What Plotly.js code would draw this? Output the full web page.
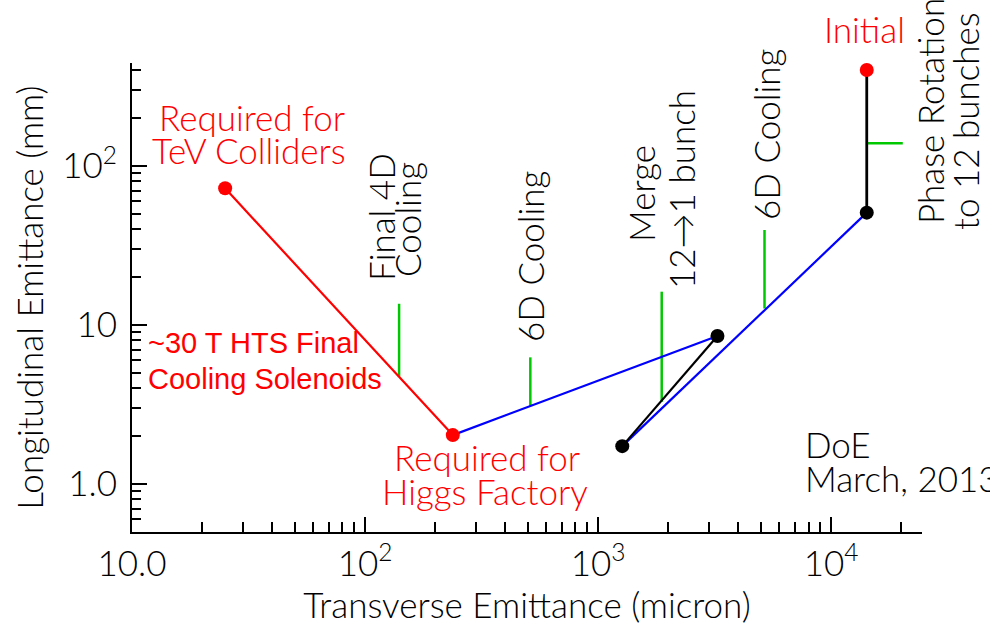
<!DOCTYPE html>
<html>
<head>
<meta charset="utf-8">
<script src="https://cdn.plot.ly/plotly-3.0.1.min.js"></script>
<style>html,body{margin:0;padding:0;background:#fff;}#chart{width:990px;height:635px;}</style>
</head>
<body>
<div id="chart"></div>
<script>
// ---- data (transverse emittance in micron, longitudinal emittance in mm) ----
const redLineX = [25.1, 238];
const redLineY = [72.4, 2.03];
const blueLine1X = [238, 3253];
const blueLine1Y = [2.03, 8.53];
const blackLine1X = [3253, 1270];
const blackLine1Y = [8.53, 1.73];
const blueLine2X = [1270, 14220];
const blueLine2Y = [1.73, 50.9];
const blackLine2X = [14220, 14220];
const blackLine2Y = [50.9, 402];
const redDotsX = [25.1, 238, 14220];
const redDotsY = [72.4, 2.03, 402];
const blackDotsX = [3253, 1270, 14220];
const blackDotsY = [8.53, 1.73, 50.9];
const greenX = [140, 140, null, 512, 512, null, 1875, 1875, null, 5178, 5178, null, 14220, 20300];
const greenY = [13.6, 4.73, null, 6.26, 3.1, null, 16.2, 3.29, null, 39.6, 12.7, null, 139, 139];

const xTickVals = [10, 100, 1000, 10000];
const xTickText = ['10.0', '10<sup>2</sup>', '10<sup>3</sup>', '10<sup>4</sup>'];
const yTickVals = [1, 10, 100];
const yTickText = ['1.0', '10', '10<sup>2</sup>'];
const xMinorVals = [20,30,40,50,60,70,80,90,200,300,400,500,600,700,800,900,2000,3000,4000,5000,6000,7000,8000,9000,20000];
const yMinorVals = [0.6,0.7,0.8,0.9,2,3,4,5,6,7,8,9,20,30,40,50,60,70,80,90,200,300,400];

const xTitle = 'Transverse Emittance (micron)';
const yTitle = 'Longitudinal Emittance (mm)';

// ---- layout helpers (pixel -> paper) ----
const L = 132, R = 922, T = 63, B = 532;
const px = v => (v - L) / (R - L);
const py = v => (B - v) / (B - T);

const CM = 'Lato, "Open Sans", sans-serif';
const FS = 35;
const W = 300;

function ann(text, x, y, opts) {
  return Object.assign({
    text: text, xref: 'paper', yref: 'paper', x: px(x), y: py(y),
    xanchor: 'center', yanchor: 'middle', showarrow: false,
    font: {family: CM, size: FS, color: 'black', weight: W}
  }, opts || {});
}
const red = {family: CM, size: FS, color: '#ff0000', weight: W};
const sansRed = {family: '"Liberation Sans", Arial, sans-serif', size: 29, color: '#ff0000'};
const annotations = [
  ann('Required for', 252, 117, {font: red}),
  ann('TeV Colliders', 249, 150, {font: red}),
  ann('~30 T HTS Final', 146, 343, {xanchor: 'left', font: sansRed}),
  ann('Cooling Solenoids', 146, 379, {xanchor: 'left', font: sansRed}),
  ann('Required for', 487, 457, {font: red}),
  ann('Higgs Factory', 485, 491, {font: red}),
  ann('Initial', 864, 29, {font: red}),
  ann('DoE', 803, 444, {xanchor: 'left'}),
  ann('March, 2013', 803, 478, {xanchor: 'left'}),
  ann('Final 4D', 381, 217, {textangle: -90}),
  ann('Cooling', 407, 220, {textangle: -90}),
  ann('6D Cooling', 530, 257, {textangle: -90}),
  ann('Merge', 641, 194, {textangle: -90}),
  ann('12\u21921 bunch', 681, 190, {textangle: -90}),
  ann('6D Cooling', 766, 135, {textangle: -90}),
  ann('Phase Rotation', 930, 111, {textangle: -90}),
  ann('to 12 bunches', 965, 121, {textangle: -90})
];

const traces = [
  {x: greenX, y: greenY, mode: 'lines', line: {color: '#00c800', width: 2.5}, connectgaps: false, hoverinfo: 'skip'},
  {x: redLineX, y: redLineY, mode: 'lines', line: {color: '#ff0000', width: 2.2}},
  {x: blueLine1X, y: blueLine1Y, mode: 'lines', line: {color: '#0000ff', width: 2.2}},
  {x: blueLine2X, y: blueLine2Y, mode: 'lines', line: {color: '#0000ff', width: 2.2}},
  {x: blackLine1X, y: blackLine1Y, mode: 'lines', line: {color: 'black', width: 2.2}},
  {x: blackLine2X, y: blackLine2Y, mode: 'lines', line: {color: 'black', width: 2.8}},
  {x: blackDotsX, y: blackDotsY, mode: 'markers', marker: {color: 'black', size: 14}, cliponaxis: false},
  {x: redDotsX, y: redDotsY, mode: 'markers', marker: {color: '#ff0000', size: 14}, cliponaxis: false}
];

const axisCommon = {
  type: 'log', showgrid: false, zeroline: false, showline: true, linecolor: 'black', linewidth: 2,
  ticks: 'inside', ticklen: 15, tickwidth: 2, tickcolor: 'black', tickmode: 'array',
  tickfont: {family: CM, size: FS, color: 'black', weight: W}
};

const layout = {
  width: 990, height: 635,
  margin: {l: L, r: 990 - R, t: T, b: 635 - B},
  paper_bgcolor: 'white', plot_bgcolor: 'white',
  showlegend: false,
  xaxis: Object.assign({}, axisCommon, {
    range: [1, 4.39], tickvals: xTickVals, ticktext: xTickText, ticklabelstandoff: 0,
    minor: {tickmode: 'array', tickvals: xMinorVals, ticks: 'inside', ticklen: 10, tickwidth: 2, tickcolor: 'black', showgrid: false},
    title: {text: xTitle, font: {family: CM, size: FS, color: 'black', weight: W}, standoff: 10}
  }),
  yaxis: Object.assign({}, axisCommon, {
    range: [-0.302, 2.648], tickvals: yTickVals, ticktext: yTickText, ticklabelstandoff: 6,
    minor: {tickmode: 'array', tickvals: yMinorVals, ticks: 'inside', ticklen: 9, tickwidth: 2, tickcolor: 'black', showgrid: false},
    title: {text: yTitle, font: {family: CM, size: FS, color: 'black', weight: W}, standoff: 8}
  }),
  annotations: annotations
};

Plotly.newPlot('chart', traces, layout, {staticPlot: true, displayModeBar: false});
</script>
</body>
</html>
